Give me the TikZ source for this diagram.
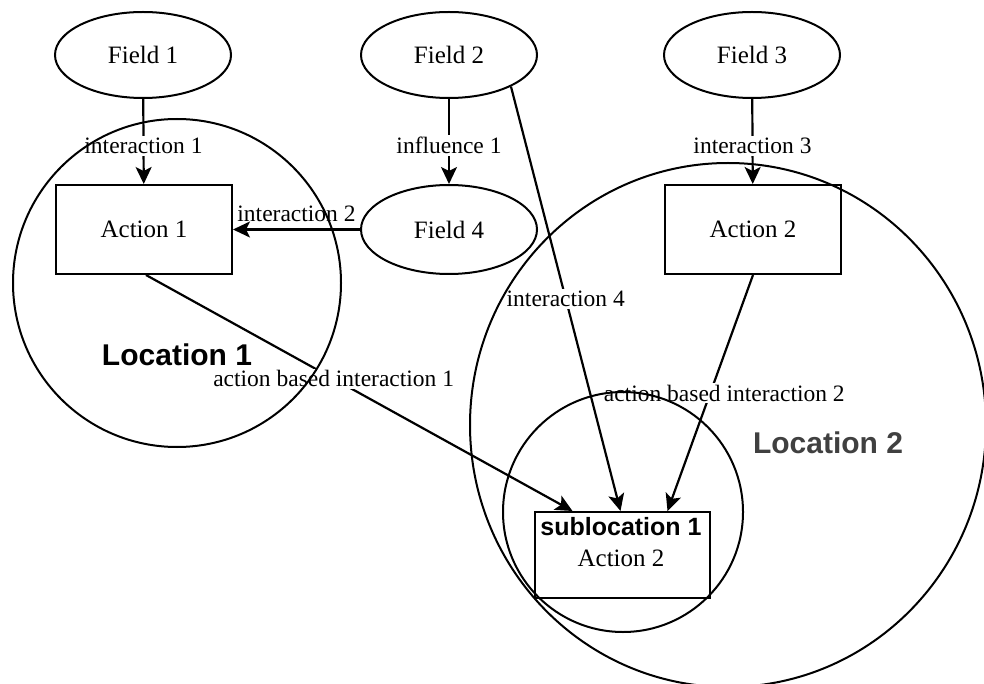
\documentclass[tikz,border=0pt]{standalone}
\usepackage{fontspec}
\setmainfont{Liberation Serif}
\setsansfont{Liberation Sans}
\usetikzlibrary{shapes.geometric,arrows.meta}
\tikzset{
  fieldnode/.style={draw, line width=2pt, ellipse, minimum width=176pt, minimum height=86pt, inner sep=0pt, font=\fontsize{25}{30}\selectfont},
  actnode/.style={draw, line width=2pt, rectangle, minimum width=176pt, minimum height=89pt, inner sep=0pt, font=\fontsize{25}{30}\selectfont},
  elab/.style={fill=white, inner sep=2pt, font=\fontsize{23.5}{28}\selectfont},
  conn/.style={line width=2.2pt, -{Stealth[length=17pt,width=16pt,inset=4pt]}},
  locnode/.style={font=\sffamily\bfseries\fontsize{30}{35}\selectfont},
  region/.style={draw, line width=2pt}
}
\begin{document}
\begin{tikzpicture}[x=1pt,y=-1pt]
\useasboundingbox (0,0) rectangle (984,684);
% fields
\node[fieldnode] (f1) at (143,55) {Field 1};
\node[fieldnode] (f2) at (449,55) {Field 2};
\node[fieldnode] (f3) at (752,55) {Field 3};
\node[fieldnode, minimum height=89pt] (f4) at (449,229.5) {Field 4};
% actions
\node[actnode] (act1) at (144,229.5) {Action 1};
\node[actnode] (act2) at (753,229.5) {Action 2};
\node[draw, line width=2pt, rectangle, minimum width=175pt, minimum height=86pt, inner sep=0pt] (sub) at (622.5,555) {};
\node[font=\sffamily\bfseries\fontsize{25}{30}\selectfont, inner sep=0pt] (subt) at (621,527) {sublocation 1};
\node[font=\fontsize{25}{30}\selectfont, inner sep=0pt] (suba) at (621,558) {Action 2};
% location labels
\node[locnode] (loc1) at (177,355) {Location 1};
\node[locnode, text=black!75] (loc2) at (828,443) {Location 2};
% connectors
\draw[conn] (f1) -- node[elab, pos=0.55] {interaction 1} (act1);
\draw[conn] (f2) -- node[elab, pos=0.55] {influence 1} (f4);
\draw[conn] (f3) -- node[elab, pos=0.55] {interaction 3} (act2);
\draw[conn] (f4.west) -- node[above=7pt, inner sep=0pt, font=\fontsize{23.5}{28}\selectfont] {interaction 2} (act1.east);
\draw[conn] (f2.-27) -- node[elab, pos=0.5] {interaction 4} ([xshift=-2pt]sub.north);
\draw[conn] ([xshift=2pt]act1.south) -- node[elab, pos=0.44] {action based interaction 1} ([xshift=-50pt]sub.north);
\draw[conn] (act2.south) -- node[elab, pos=0.5, xshift=14pt] {action based interaction 2} ([xshift=45pt]sub.north);
% regions
\draw[region] (177,283) circle[radius=164];
\draw[region] (728,425) ellipse[x radius=258, y radius=262];
\draw[region] (623,512) circle[radius=120];
\end{tikzpicture}
\end{document}
